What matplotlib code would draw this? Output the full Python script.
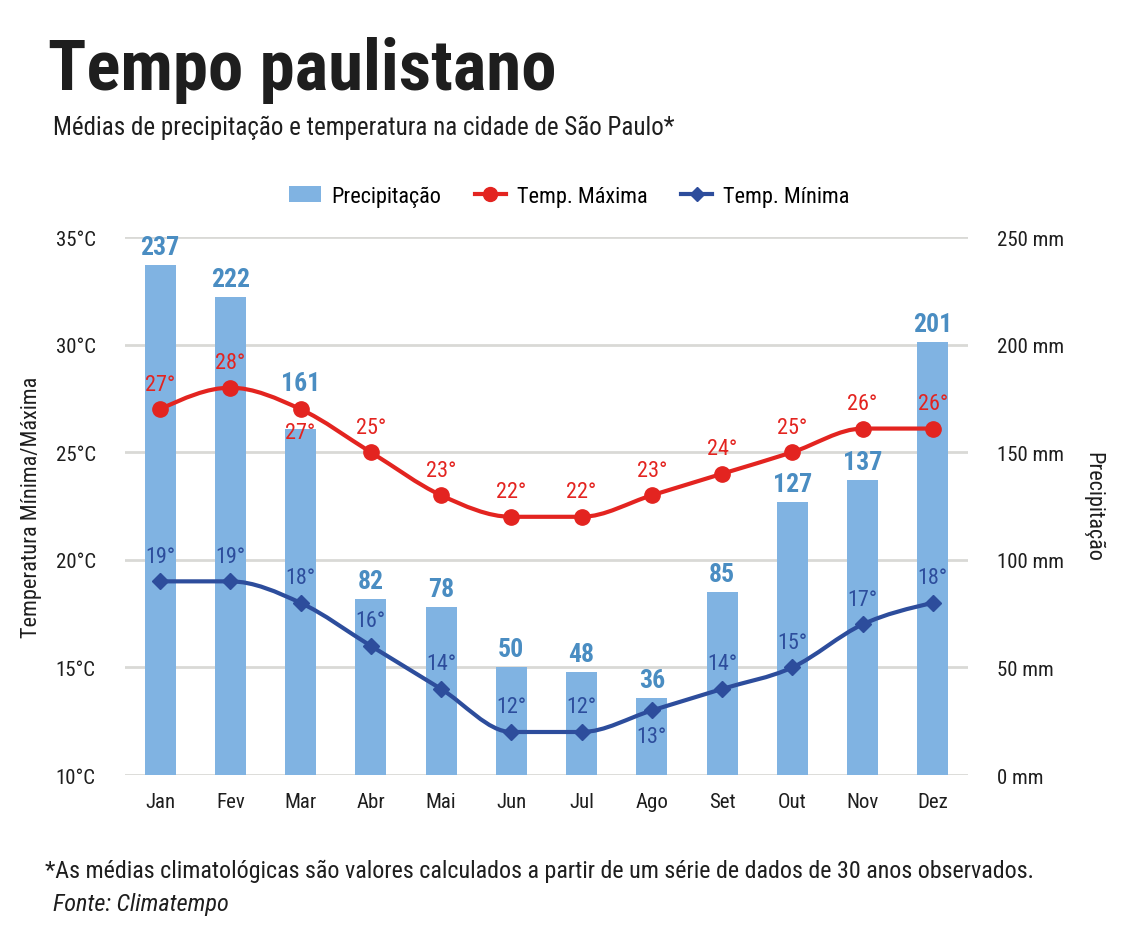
import matplotlib
matplotlib.use("Agg")
import matplotlib.pyplot as plt
from matplotlib.path import Path
from matplotlib.patches import PathPatch
from matplotlib.lines import Line2D
from matplotlib.patches import Patch

plt.rcParams['font.family'] = ['Roboto Condensed', 'Liberation Sans Narrow', 'Roboto', 'DejaVu Sans']

meses = ["Jan", "Fev", "Mar", "Abr", "Mai", "Jun", "Jul", "Ago", "Set", "Out", "Nov", "Dez"]
precipitacao = [237, 222, 161, 82, 78, 50, 48, 36, 85, 127, 137, 201]
temp_max = [27, 28, 27, 25, 23, 22, 22, 23, 24, 25, 26.1, 26.1]
temp_min = [19, 19, 18, 16, 14, 12, 12, 13, 14, 15, 17, 18]
# rótulos deslocados para não sobrepor
max_abaixo = ["Mar"]
min_abaixo = ["Ago"]
barra_acima = ["Mar"]

cor_barra = "#80B3E2"
cor_rot_barra = "#4A8DC2"
cor_max = "#E32420"
cor_min = "#2D4D9C"
cor_grade = "#D9D9D6"
cor_texto = "#1E1E1E"


def curva_suave(xs, ys):
    # bezier monotona (como curveMonotoneX)
    n = len(xs)
    s = [(ys[i + 1] - ys[i]) / (xs[i + 1] - xs[i]) for i in range(n - 1)]
    t = [0.0] * n
    for i in range(1, n - 1):
        h0 = xs[i] - xs[i - 1]
        h1 = xs[i + 1] - xs[i]
        p = (s[i - 1] * h1 + s[i] * h0) / (h0 + h1)
        sg = (s[i - 1] > 0) - (s[i - 1] < 0) + (s[i] > 0) - (s[i] < 0)
        t[i] = sg * min(abs(s[i - 1]), abs(s[i]), 0.5 * abs(p))
    t[0] = (3 * s[0] - t[1]) / 2
    t[-1] = (3 * s[-1] - t[-2]) / 2
    verts = [(xs[0], ys[0])]
    codes = [Path.MOVETO]
    for i in range(n - 1):
        dx = (xs[i + 1] - xs[i]) / 3
        verts += [(xs[i] + dx, ys[i] + dx * t[i]),
                  (xs[i + 1] - dx, ys[i + 1] - dx * t[i + 1]),
                  (xs[i + 1], ys[i + 1])]
        codes += [Path.CURVE4] * 3
    return Path(verts, codes)


x = list(range(len(meses)))

fig = plt.figure(figsize=(11.3, 9.45), dpi=100)
ax = fig.add_axes([0.1106, 0.1788, 0.746, 0.5693])
ax2 = ax.twinx()
ax.set_zorder(ax2.get_zorder() + 1)
ax.patch.set_visible(False)

# barras de precipitação
ax2.bar(x, precipitacao, width=0.44, color=cor_barra, zorder=2)
for m, xi, p in zip(meses, x, precipitacao):
    dy = 33 if m in barra_acima else 13
    ax2.annotate(str(p), (xi, p), xytext=(0, dy), textcoords="offset points",
                 ha="center", va="center", fontsize=18.5, fontweight="bold", color=cor_rot_barra)
ax2.set_ylim(0, 250)
ax2.set_yticks([0, 50, 100, 150, 200, 250])
ax2.set_yticklabels([f"{v} mm" for v in [0, 50, 100, 150, 200, 250]])
ax2.grid(axis="y", color=cor_grade, linewidth=2)
ax2.set_axisbelow(True)

# linhas de temperatura
ax.add_patch(PathPatch(curva_suave(x, temp_max), fill=False, edgecolor=cor_max, linewidth=3, zorder=3))
ax.plot(x, temp_max, linestyle="none", marker="o", markersize=11, color=cor_max, zorder=4)
ax.add_patch(PathPatch(curva_suave(x, temp_min), fill=False, edgecolor=cor_min, linewidth=3, zorder=3))
ax.plot(x, temp_min, linestyle="none", marker="D", markersize=8, color=cor_min, zorder=4)

for m, xi, t in zip(meses, x, temp_max):
    dy = -17 if m in max_abaixo else 18
    ax.annotate(f"{round(t)}°", (xi, t), xytext=(0, dy), textcoords="offset points",
                ha="center", va="center", fontsize=16, color=cor_max)
for m, xi, t in zip(meses, x, temp_min):
    dy = -19 if m in min_abaixo else 18
    ax.annotate(f"{round(t)}°", (xi, t), xytext=(0, dy), textcoords="offset points",
                ha="center", va="center", fontsize=16, color=cor_min)

ax.set_ylim(10, 35)
ax.set_yticks([10, 15, 20, 25, 30, 35])
ax.set_yticklabels([f"{v}°C" for v in [10, 15, 20, 25, 30, 35]])
ax.set_xlim(-0.5, 11.5)
ax.set_xticks(x)
ax.set_xticklabels(meses)

for a in (ax, ax2):
    for s in a.spines.values():
        s.set_visible(False)
    a.tick_params(length=0, labelsize=15, colors=cor_texto)
ax.tick_params(axis="y", pad=21)
ax.tick_params(axis="x", pad=12)
ax2.tick_params(axis="y", pad=21)

ax.set_ylabel("Temperatura Mínima/Máxima", fontsize=16, color=cor_texto, labelpad=10)
ax2.set_ylabel("Precipitação", fontsize=16, color=cor_texto, rotation=270, labelpad=28)

# legenda
itens = [Patch(facecolor=cor_barra, label="Precipitação"),
         Line2D([0], [0], color=cor_max, linewidth=3, marker="o", markersize=10, label="Temp. Máxima"),
         Line2D([0], [0], color=cor_min, linewidth=3, marker="D", markersize=7, label="Temp. Mínima")]
fig.legend(handles=itens, loc="center", bbox_to_anchor=(0.504, 1 - 197 / 945), ncol=3, frameon=False,
           fontsize=16, columnspacing=1.5, handlelength=1.4, handletextpad=0.5)

fig.text(48 / 1130, 1 - 70 / 945, "Tempo paulistano", fontsize=51, fontweight="bold",
         color=cor_texto, va="center", ha="left")
fig.text(53 / 1130, 1 - 128 / 945, "Médias de precipitação e temperatura na cidade de São Paulo*",
         fontsize=18, color=cor_texto, va="center", ha="left")
fig.text(45 / 1130, 1 - 871 / 945,
         "*As médias climatológicas são valores calculados a partir de um série de dados de 30 anos observados.",
         fontsize=17.3, color=cor_texto, va="center", ha="left")
fig.text(53 / 1130, 1 - 905 / 945, "Fonte: Climatempo", fontsize=17.5, style="italic",
         color=cor_texto, va="center", ha="left")

fig.savefig("out.png", dpi=100)
